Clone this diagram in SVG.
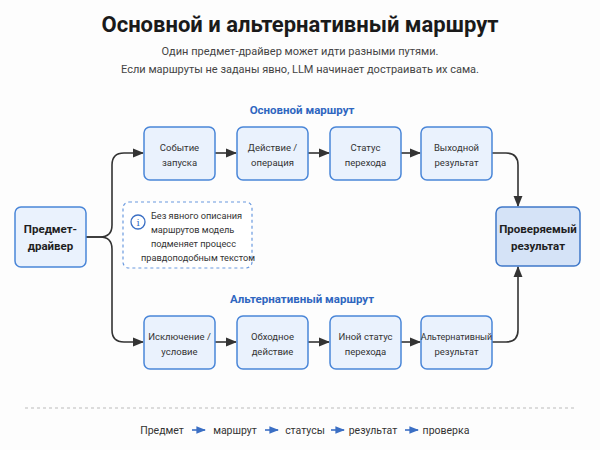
<svg xmlns="http://www.w3.org/2000/svg" width="600" height="450" viewBox="0 0 600 450">
<defs>
<style>
text{font-family:Roboto,"Liberation Sans",sans-serif;text-anchor:middle}
.b{fill:#eaf2fd;stroke:#4a86d8;stroke-width:1.5}
.k{fill:#d5e3f7;stroke:#3f78c9;stroke-width:1.5}
.t{font-size:9.5px;fill:#333}
.bt{font-size:11.5px;font-weight:bold;fill:#1f1f1f}
.n{font-size:9.2px;fill:#333;text-anchor:start}
.g{font-size:10.5px;fill:#333}
.c{fill:none;stroke:#333;stroke-width:1.6}
.l{fill:none;stroke:#3b6fc4;stroke-width:1.6}
</style>
<marker id="a" viewBox="0 0 10 10" refX="9" refY="5" markerWidth="7" markerHeight="7" orient="auto"><path d="M0,1L10,5L0,9z" fill="#333"/></marker>
<marker id="ab" viewBox="0 0 10 10" refX="9" refY="5" markerWidth="6" markerHeight="6" orient="auto"><path d="M0,1L10,5L0,9z" fill="#3b6fc4"/></marker>
</defs>
<rect width="600" height="450" fill="#fdfdfd"/>
<text x="300" y="32" style="font-size:22px;font-weight:bold;fill:#1a1a1a">Основной и альтернативный маршрут</text>
<text x="300" y="55" style="font-size:11px;fill:#444">Один предмет-драйвер может идти разными путями.</text>
<text x="300" y="73" style="font-size:11px;fill:#444">Если маршруты не заданы явно, LLM начинает достраивать их сама.</text>
<text x="302" y="114" style="font-size:11.5px;font-weight:bold;fill:#2f66c0">Основной маршрут</text>
<text x="302" y="303" style="font-size:11.5px;font-weight:bold;fill:#2f66c0">Альтернативный маршрут</text>
<g id="connectors">
<path class="c" d="M86,237H100Q112,237 112,225V165Q112,153 124,153H143" marker-end="url(#a)"/>
<path class="c" d="M86,237H100Q112,237 112,249V330Q112,342 124,342H143" marker-end="url(#a)"/>
<path class="c" d="M215,153H236" marker-end="url(#a)"/>
<path class="c" d="M308,153H329" marker-end="url(#a)"/>
<path class="c" d="M401,153H420" marker-end="url(#a)"/>
<path class="c" d="M492,153H506Q518,153 518,165V206" marker-end="url(#a)"/>
<path class="c" d="M215,342H236" marker-end="url(#a)"/>
<path class="c" d="M308,342H329" marker-end="url(#a)"/>
<path class="c" d="M401,342H420" marker-end="url(#a)"/>
<path class="c" d="M492,342H506Q518,342 518,330V267" marker-end="url(#a)"/>
</g>
<g id="driver"><rect class="b" x="15" y="207" width="71" height="60" rx="6"/><text class="bt" x="50.5" y="233">Предмет-</text><text class="bt" x="50.5" y="250">драйвер</text></g>
<g id="result"><rect class="k" x="496" y="207" width="84" height="59" rx="6"/><text class="bt" x="538" y="233">Проверяемый</text><text class="bt" x="538" y="250">результат</text></g>
<g id="m1"><rect class="b" x="144" y="127" width="71" height="53" rx="6"/><text class="t" x="179.5" y="151">Событие</text><text class="t" x="179.5" y="166">запуска</text></g>
<g id="m2"><rect class="b" x="237" y="127" width="71" height="53" rx="6"/><text class="t" x="272.5" y="151">Действие /</text><text class="t" x="272.5" y="166">операция</text></g>
<g id="m3"><rect class="b" x="330" y="127" width="71" height="53" rx="6"/><text class="t" x="365.5" y="151">Статус</text><text class="t" x="365.5" y="166">перехода</text></g>
<g id="m4"><rect class="b" x="421" y="127" width="71" height="53" rx="6"/><text class="t" x="456.5" y="151">Выходной</text><text class="t" x="456.5" y="166">результат</text></g>
<g id="a1"><rect class="b" x="144" y="316" width="71" height="53" rx="6"/><text class="t" x="179.5" y="340">Исключение /</text><text class="t" x="179.5" y="355">условие</text></g>
<g id="a2"><rect class="b" x="237" y="316" width="71" height="53" rx="6"/><text class="t" x="272.5" y="340">Обходное</text><text class="t" x="272.5" y="355">действие</text></g>
<g id="a3"><rect class="b" x="330" y="316" width="71" height="53" rx="6"/><text class="t" x="365.5" y="340">Иной статус</text><text class="t" x="365.5" y="355">перехода</text></g>
<g id="a4"><rect class="b" x="421" y="316" width="71" height="53" rx="6"/><text class="t" x="456.5" y="340" style="font-size:9px">Альтернативный</text><text class="t" x="456.5" y="355">результат</text></g>
<g id="note">
<rect x="123" y="202" width="129" height="66" rx="6" fill="#fff" stroke="#6a9ae0" stroke-width="1.2" stroke-dasharray="3,3"/>
<circle cx="138" cy="222" r="7" fill="#fff" stroke="#3b6fc4" stroke-width="1.3"/>
<text x="138" y="226" style="font-size:10px;font-family:'DejaVu Serif',serif;fill:#3b6fc4">i</text>
<text class="n" x="151" y="219">Без явного описания</text>
<text class="n" x="151" y="233">маршрутов модель</text>
<text class="n" x="151" y="247">подменяет процесс</text>
<text class="n" x="141" y="261">правдоподобным текстом</text>
</g>
<line x1="25" y1="408" x2="575" y2="408" stroke="#bbb" stroke-dasharray="3,3"/>
<g id="legend">
<text class="g" x="162" y="434">Предмет</text>
<path class="l" d="M192,430H205" marker-end="url(#ab)"/>
<text class="g" x="235" y="434">маршрут</text>
<path class="l" d="M265,430H278" marker-end="url(#ab)"/>
<text class="g" x="305" y="434">статусы</text>
<path class="l" d="M331,430H344" marker-end="url(#ab)"/>
<text class="g" x="373" y="434">результат</text>
<path class="l" d="M405,430H418" marker-end="url(#ab)"/>
<text class="g" x="446" y="434">проверка</text>
</g>
</svg>
